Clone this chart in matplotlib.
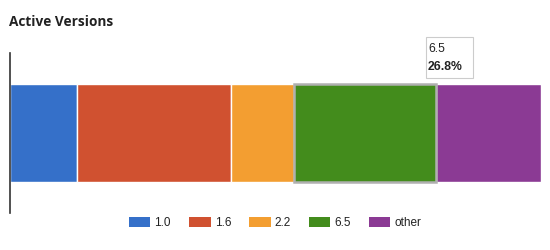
import matplotlib.pyplot as plt
from matplotlib.patches import Patch, Rectangle

versions = ["1.0", "1.6", "2.2", "6.5", "other"]
shares = [12.6, 29.0, 11.9, 26.8, 19.7]
colors = ["#3570C9", "#D05130", "#F39E31", "#438C1C", "#8B3A94"]
highlight = "6.5"

plt.rcParams['font.family'] = ['Liberation Sans', 'DejaVu Sans']

fig = plt.figure(figsize=(5.5, 2.5), dpi=100)
ax = fig.add_axes([0.0182, 0.148, 0.9655, 0.64])

left = 0
for v, s, c in zip(versions, shares, colors):
    if v == highlight:
        ax.barh(0, s, left=left, height=0.6125, color=c, edgecolor="#b0b0b0",
                linewidth=1.8, zorder=3)
    else:
        ax.barh(0, s, left=left, height=0.6125, color=c, edgecolor="white",
                linewidth=1, zorder=2)
    left += s

ax.set_xlim(0, sum(shares))
ax.set_ylim(-0.5, 0.5)
for sp in ["top", "right", "bottom"]:
    ax.spines[sp].set_visible(False)
ax.spines["left"].set_color("#333333")
ax.spines["left"].set_linewidth(1.2)
ax.set_xticks([])
ax.set_yticks([])

# tooltip for the highlighted segment
idx = versions.index(highlight)
fig.patches.append(Rectangle((0.7745, 0.688), 0.0855, 0.164, transform=fig.transFigure,
                             fc="white", ec="#cccccc", lw=0.8, zorder=5))
fig.text(0.7782, 0.806, highlight, fontsize=8.8, va="center", ha="left",
         color="#222222", zorder=6)
fig.text(0.7782, 0.734, "%.1f%%" % shares[idx], fontsize=8.8, va="center", ha="left",
         fontweight="bold", color="#222222", zorder=6)

fig.text(0.016, 0.914, "Active Versions", fontsize=9.8, fontweight="bold",
         family=["Open Sans", "DejaVu Sans"], color="#222222", va="center")

handles = [Patch(facecolor=c, edgecolor="none") for c in colors]
fig.legend(handles, versions, loc="center", bbox_to_anchor=(0.5, 0.108), ncol=5,
           frameon=False, fontsize=8.5, handlelength=1.85, handleheight=0.85,
           handletextpad=0.34, columnspacing=1.5, labelcolor="#222222")

fig.savefig("out.png", dpi=100)
